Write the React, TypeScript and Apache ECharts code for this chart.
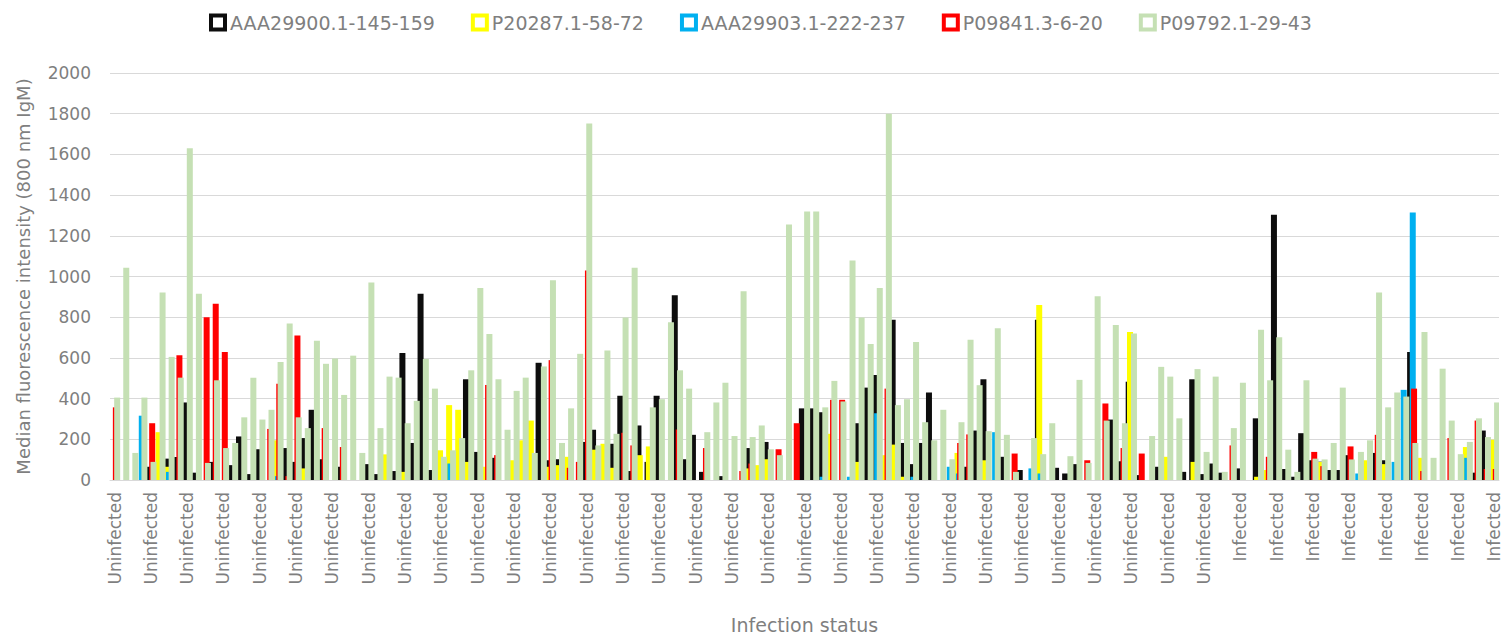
import React, { useEffect, useRef } from "react";
import * as echarts from "echarts";

const seriesNames = [
  "AAA29900.1-145-159",
  "P20287.1-58-72",
  "AAA29903.1-222-237",
  "P09841.3-6-20",
  "P09792.1-29-43",
];
const seriesColors = ["#0D0D0D", "#FFFF00", "#00B0F0", "#FF0000", "#C5E0B4"];

const uninfectedCount = 123;
const infectedCount = 30;
const statusLabels: string[] = [
  ...Array(uninfectedCount).fill("Uninfected"),
  ...Array(infectedCount).fill("Infected"),
];

const yTicks = [0, 200, 400, 600, 800, 1000, 1200, 1400, 1600, 1800, 2000];

const black = [
  0, 0, 0, 0, 65, 10, 105, 113, 381, 36, 0, 89, 0, 73, 214, 29, 151, 0, 0, 157,
  89, 206, 345, 102, 0, 65, 0, 0, 78, 29, 0, 44, 624, 182, 915, 49, 0, 0, 0, 495,
  138, 0, 109, 0, 0, 0, 0, 576, 97, 102, 0, 0, 187, 247, 0, 178, 414, 44, 268, 89,
  414, 0, 908, 102, 222, 40, 0, 19, 0, 0, 157, 0, 187, 0, 0, 0, 352, 352, 333, 0,
  0, 0, 279, 454, 516, 0, 787, 182, 78, 182, 430, 0, 0, 0, 65, 243, 495, 0, 114, 0,
  49, 0, 787, 0, 60, 32, 78, 0, 0, 0, 297, 92, 483, 24, 0, 65, 0, 0, 40, 495,
  29, 81, 36, 0, 57, 0, 303, 0, 1304, 54, 16, 230, 97, 90, 49, 49, 122, 0, 0, 133,
  97, 0, 0, 629, 0, 0, 0, 0, 0, 0, 36, 243, 0,
];
const yellow = [
  0, 0, 0, 0, 0, 235, 65, 0, 0, 0, 0, 0, 0, 0, 0, 0, 0, 0, 195, 0,
  0, 57, 0, 0, 0, 0, 0, 0, 0, 0, 126, 0, 40, 0, 0, 0, 146, 368, 345, 89,
  0, 65, 0, 0, 97, 195, 292, 0, 65, 73, 114, 0, 0, 149, 178, 60, 0, 0, 122, 165,
  0, 0, 0, 0, 0, 0, 0, 0, 0, 0, 57, 73, 102, 0, 0, 0, 0, 0, 0, 227,
  0, 0, 89, 0, 0, 122, 174, 16, 0, 0, 0, 0, 0, 133, 0, 0, 97, 0, 0, 0,
  0, 0, 860, 0, 0, 0, 0, 0, 0, 0, 0, 0, 727, 0, 0, 0, 114, 0, 0, 89,
  0, 0, 0, 0, 0, 0, 16, 49, 0, 0, 0, 0, 0, 89, 0, 0, 0, 0, 97, 0,
  78, 0, 0, 0, 109, 0, 0, 0, 0, 162, 0, 0, 198,
];
const blue = [
  0, 0, 0, 316, 0, 0, 40, 0, 0, 0, 0, 0, 0, 0, 0, 0, 0, 0, 19, 0,
  0, 0, 0, 0, 0, 0, 0, 0, 0, 0, 0, 0, 0, 0, 0, 0, 0, 81, 0, 0,
  0, 0, 0, 0, 0, 0, 0, 0, 0, 0, 0, 0, 0, 0, 0, 0, 0, 0, 0, 0,
  0, 0, 0, 0, 0, 0, 0, 0, 0, 0, 0, 0, 0, 0, 0, 0, 0, 0, 16, 0,
  0, 16, 0, 0, 328, 0, 0, 0, 16, 0, 0, 0, 65, 32, 0, 0, 0, 235, 0, 0,
  0, 57, 32, 0, 0, 0, 0, 0, 0, 0, 0, 0, 0, 0, 0, 0, 0, 0, 0, 0,
  0, 0, 0, 0, 0, 0, 0, 0, 0, 0, 0, 0, 0, 0, 0, 0, 0, 32, 0, 0,
  0, 89, 443, 1314, 0, 0, 0, 0, 0, 109, 0, 0, 0,
];
const red = [
  357, 0, 0, 0, 279, 0, 0, 613, 0, 0, 800, 866, 629, 0, 0, 0, 0, 251, 473, 19,
  710, 0, 0, 255, 0, 162, 0, 0, 0, 0, 0, 0, 0, 0, 0, 0, 0, 0, 0, 0,
  0, 467, 122, 0, 0, 0, 0, 0, 589, 0, 60, 89, 1030, 0, 0, 0, 232, 170, 0, 0,
  0, 0, 248, 0, 0, 157, 0, 0, 0, 44, 81, 0, 0, 151, 0, 279, 0, 0, 0, 394,
  394, 0, 0, 0, 0, 449, 0, 0, 0, 0, 0, 0, 0, 182, 224, 0, 0, 0, 0, 130,
  0, 0, 0, 0, 0, 0, 0, 97, 0, 376, 0, 157, 0, 130, 0, 0, 0, 0, 0, 0,
  0, 0, 0, 170, 0, 0, 0, 114, 0, 0, 0, 0, 138, 68, 0, 0, 165, 0, 0, 222,
  0, 0, 0, 449, 44, 0, 0, 206, 0, 0, 292, 54, 54,
];
const green = [
  405, 1043, 133, 405, 89, 921, 605, 503, 1630, 915, 84, 490, 157, 182, 308, 503, 297, 345, 580, 769,
  308, 255, 684, 571, 597, 418, 611, 133, 970, 255, 508, 503, 279, 389, 595, 449, 114, 146, 206, 539,
  944, 717, 495, 247, 438, 503, 133, 558, 981, 182, 352, 620, 1752, 170, 636, 227, 798, 1043, 0, 357,
  397, 775, 539, 449, 0, 235, 381, 478, 216, 928, 211, 268, 151, 122, 1255, 0, 1320, 1320, 357, 487,
  386, 1079, 798, 668, 944, 1800, 368, 397, 678, 284, 195, 345, 102, 284, 689, 466, 240, 746, 222, 40,
  0, 206, 127, 279, 0, 117, 492, 84, 903, 292, 762, 279, 720, 0, 216, 556, 508, 303, 0, 545,
  138, 508, 40, 255, 478, 0, 738, 490, 702, 149, 40, 490, 105, 101, 182, 454, 101, 138, 195, 921,
  357, 430, 410, 182, 727, 109, 547, 292, 127, 187, 303, 211, 381,
];

const seriesData = [black, yellow, blue, red, green];

const FONT = "DejaVu Sans";
const TEXT = "#7F7F7F";

export default function App() {
  const ref = useRef<HTMLDivElement>(null);
  useEffect(() => {
    if (!ref.current) return;
    const chart = echarts.init(ref.current, undefined, { renderer: "svg" });
    chart.setOption({
      animation: false,
      backgroundColor: "#ffffff",
      textStyle: { fontFamily: FONT },
      legend: {
        left: 204,
        top: 8,
        itemWidth: 14,
        itemHeight: 14,
        itemGap: 36,
        icon: "rect",
        textStyle: { fontFamily: FONT, fontSize: 19, color: TEXT },
        data: seriesNames.map((n, i) => ({
          name: n,
          itemStyle: { color: "#ffffff", borderColor: seriesColors[i], borderWidth: 4 },
        })),
      },
      grid: { left: 110, right: 11, top: 73, bottom: 156, containLabel: false },
      xAxis: {
        type: "category",
        data: statusLabels,
        name: "Infection status",
        nameLocation: "middle",
        nameGap: 135,
        nameTextStyle: { fontFamily: FONT, fontSize: 19, color: TEXT },
        axisLine: { lineStyle: { color: "#D9D9D9", width: 1 } },
        axisTick: { show: false },
        axisLabel: {
          interval: 3,
          rotate: 90,
          margin: 12,
          fontFamily: FONT,
          fontSize: 17,
          color: TEXT,
        },
      },
      yAxis: {
        type: "value",
        min: yTicks[0],
        max: yTicks[yTicks.length - 1],
        interval: 200,
        name: "Median fluorescence intensity (800 nm IgM)",
        nameLocation: "middle",
        nameGap: 78,
        nameTextStyle: { fontFamily: FONT, fontSize: 18, color: TEXT },
        axisLine: { show: false },
        axisTick: { show: false },
        splitLine: { lineStyle: { color: "#D9D9D9", width: 1 } },
        axisLabel: {
          margin: 19,
          fontFamily: FONT,
          fontSize: 17,
          color: TEXT,
          formatter: (v: number) => String(v),
        },
      },
      series: seriesNames.map((n, i) => ({
        name: n,
        type: "bar",
        data: seriesData[i],
        barWidth: 6,
        barGap: "-78%",
        itemStyle: { color: seriesColors[i] },
      })),
    });
    return () => chart.dispose();
  }, []);
  return (
    <div
      ref={ref}
      style={{ position: "fixed", left: 0, top: 0, width: 1510, height: 639 }}
    />
  );
}
